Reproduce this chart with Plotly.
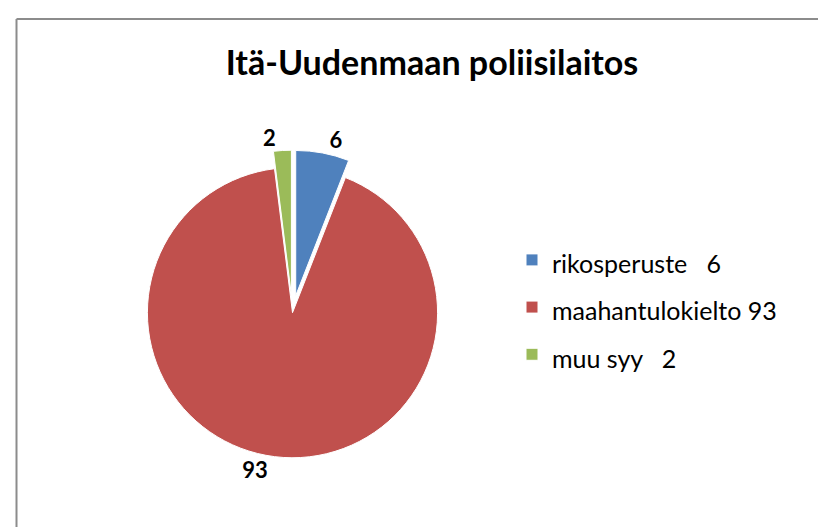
import plotly.graph_objects as go

categories = ["rikosperuste", "maahantulokielto", "muu syy"]
values = [6, 93, 2]
colors = ["#4F81BD", "#C0504D", "#9BBB59"]
pulls = [0.12, 0.0, 0.12]
title_text = "Itä-Uudenmaan poliisilaitos"

W, H = 826, 527
legend_labels = [
    '<span style="font-size:25px">' + (f"{c}\u00a0\u00a0\u00a0{v}" if len(c) < 14 else f"{c} {v}") + "</span>"
    for c, v in zip(categories, values)
]

fig = go.Figure()
fig.add_trace(go.Pie(
    labels=legend_labels,
    values=values,
    text=[str(v) for v in values],
    textinfo="text",
    textposition="outside",
    textfont=dict(family="Lato", size=22, color="black", weight="bold"),
    marker=dict(colors=colors, line=dict(color="white", width=1)),
    pull=pulls,
    sort=False,
    direction="clockwise",
    rotation=0,
    domain=dict(x=[122 / W, 447 / W], y=[1 - 477 / H, 1 - 137 / H]),
    hoverinfo="value",
))

fig.update_layout(
    width=W, height=H,
    margin=dict(l=0, r=0, t=0, b=0),
    paper_bgcolor="white",
    plot_bgcolor="white",
    title=dict(text=f"<b>{title_text}</b>", x=424 / W, xanchor="center",
               y=1 - 55 / H, yanchor="middle",
               font=dict(family="Lato", size=34, color="black")),
    legend=dict(x=504 / W, y=1 - 225 / H, xanchor="left", yanchor="top",
                font=dict(family="Lato", size=34, color="black"),
                itemwidth=30, bgcolor="rgba(0,0,0,0)"),
    showlegend=True,
    shapes=[
        dict(type="line", xref="paper", yref="paper", x0=8.5 / W, x1=1.0, y0=1 - 11 / H, y1=1 - 11 / H,
             line=dict(color="#8C8C8C", width=2)),
        dict(type="line", xref="paper", yref="paper", x0=8.5 / W, x1=8.5 / W, y0=0, y1=1 - 11 / H,
             line=dict(color="#8C8C8C", width=2)),
    ],
)

fig.write_html("out.html")
